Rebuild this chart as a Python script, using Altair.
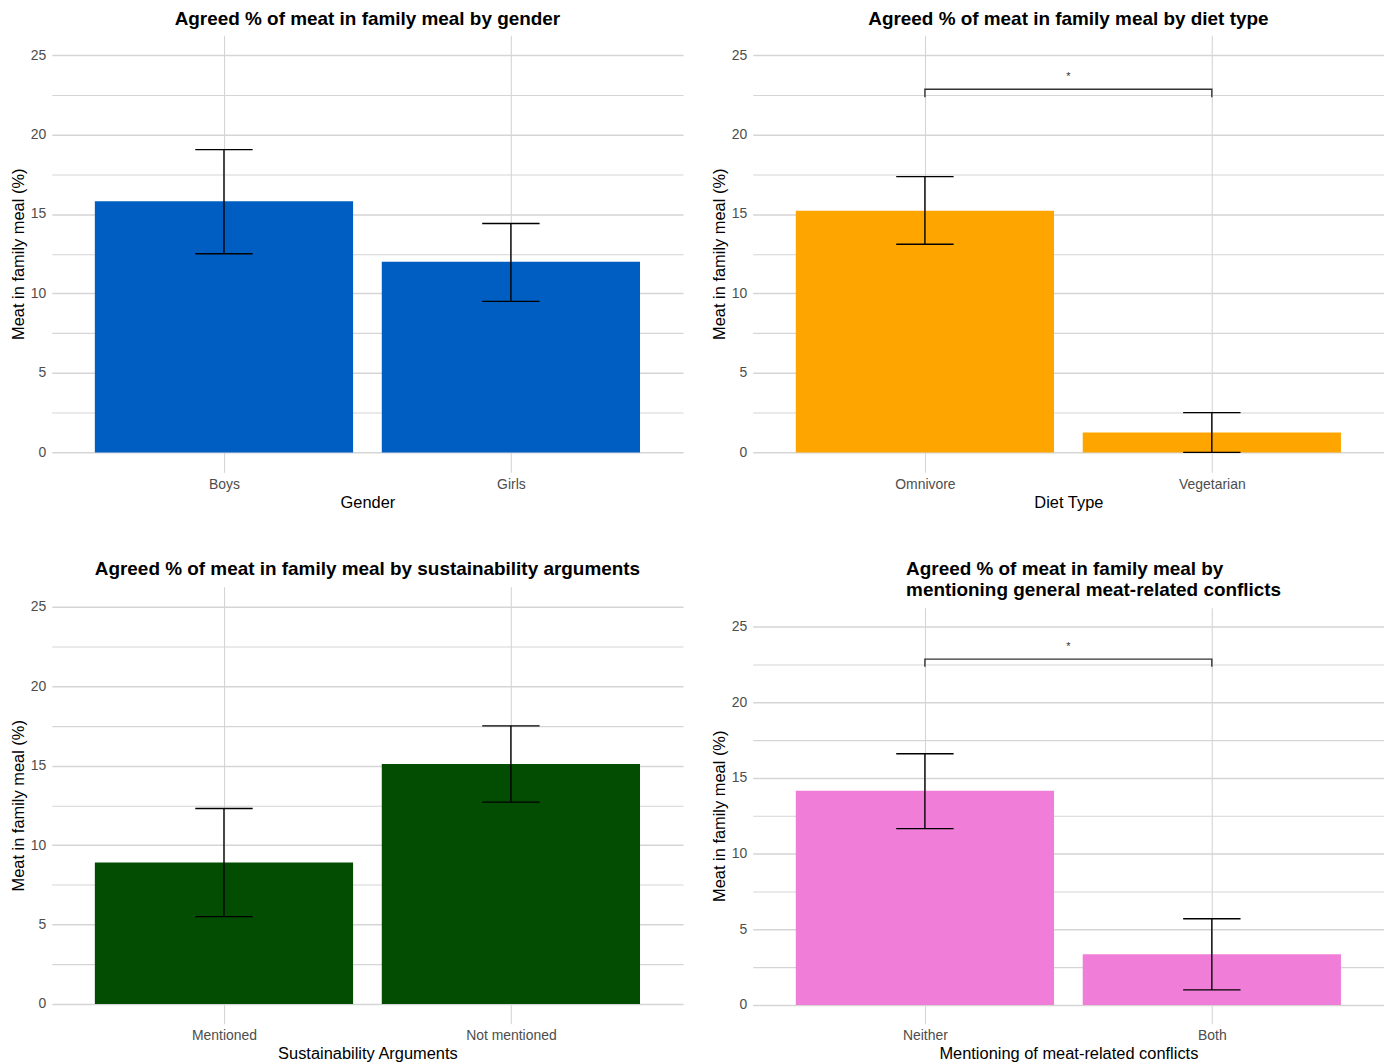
import altair as alt
import pandas as pd

FONT = "Liberation Sans"

# ---- data ----
gender_cats = ["Boys", "Girls"]
gender_mean = [15.8, 12.0]
gender_lo = [12.5, 9.5]
gender_hi = [19.05, 14.4]

diet_cats = ["Omnivore", "Vegetarian"]
diet_mean = [15.2, 1.25]
diet_lo = [13.1, 0.0]
diet_hi = [17.35, 2.5]

sust_cats = ["Mentioned", "Not mentioned"]
sust_mean = [8.9, 15.1]
sust_lo = [5.5, 12.7]
sust_hi = [12.3, 17.5]

conf_cats = ["Neither", "Both"]
conf_mean = [14.15, 3.35]
conf_lo = [11.65, 1.0]
conf_hi = [16.6, 5.7]

# significance bracket (top, drop, label height) and label
sig_top = 22.85
sig_drop = 22.35
sig_label_y = 23.45
sig_label = "*"

y_ticks = [0, 2.5, 5, 7.5, 10, 12.5, 15, 17.5, 20, 22.5, 25]

GRID = "#d5d5d5"


def panel(cats, means, los, his, color, title, xtitle, height, sig=False):
    df = pd.DataFrame({
        "cat": cats,
        "pos": list(range(1, len(cats) + 1)),
        "mean": means,
        "lo": los,
        "hi": his,
    })
    parts = [f"datum.value == {i + 1} ? '{c}'" for i, c in enumerate(cats)]
    label_expr = " : ".join(parts) + " : ''"

    xscale = alt.Scale(domain=[0.4, len(cats) + 0.6], nice=False, zero=False)
    yscale = alt.Scale(domain=[-1.25, 26.25], nice=False, zero=False)
    xaxis = alt.Axis(
        values=list(range(1, len(cats) + 1)), labelExpr=label_expr, title=xtitle,
        grid=True, gridColor=GRID, gridWidth=1.1, domain=False, ticks=False, tickSize=0,
        labelFont=FONT, labelFontSize=14, labelColor="#4d4d4d", labelPadding=5,
        titleFont=FONT, titleFontSize=16.5, titleColor="black", titleFontWeight="normal",
        titlePadding=3, labelAngle=0,
    )
    yaxis = alt.Axis(
        values=y_ticks, labelExpr="datum.value % 5 === 0 ? datum.label : ''",
        title="Meat in family meal (%)",
        grid=True, gridColor=GRID,
        gridWidth={"condition": {"test": "datum.value % 5 === 0", "value": 1.5}, "value": 1.1},
        domain=False, ticks=False, tickSize=0,
        labelFont=FONT, labelFontSize=14, labelColor="#4d4d4d", labelPadding=6,
        titleFont=FONT, titleFontSize=16.5, titleColor="black", titleFontWeight="normal",
        titlePadding=4,
    )

    def X(f):
        return alt.X(f, type="quantitative", scale=xscale, axis=xaxis)

    def Y(f):
        return alt.Y(f, type="quantitative", scale=yscale, axis=yaxis)

    base = alt.Chart(df).transform_calculate(
        left="datum.pos - 0.45", right="datum.pos + 0.45",
        cl="datum.pos - 0.1", cr="datum.pos + 0.1", zero="0",
    )
    bars = base.mark_bar(color=color).encode(
        x=X("left"), x2=alt.X2("right"), y=Y("mean"), y2=alt.Y2("zero"))
    stem = base.mark_rule(color="black", strokeWidth=1.4).encode(
        x=X("pos"), y=Y("lo"), y2=alt.Y2("hi"))
    cap_lo = base.mark_rule(color="black", strokeWidth=1.4).encode(
        x=X("cl"), x2=alt.X2("cr"), y=Y("lo"))
    cap_hi = base.mark_rule(color="black", strokeWidth=1.4).encode(
        x=X("cl"), x2=alt.X2("cr"), y=Y("hi"))
    layers = [bars, stem, cap_lo, cap_hi]

    if sig:
        br = pd.DataFrame({"pos": [1, 1, 2, 2],
                           "y": [sig_drop, sig_top, sig_top, sig_drop],
                           "o": [0, 1, 2, 3]})
        bracket = alt.Chart(br).mark_line(color="#333333", strokeWidth=1.4).encode(
            x=X("pos"), y=Y("y"), order="o:Q")
        lab = pd.DataFrame({"pos": [1.5], "y": [sig_label_y], "t": [sig_label]})
        star = alt.Chart(lab).mark_text(font=FONT, fontSize=11, color="#333333",
                                       baseline="alphabetic").encode(
            x=X("pos"), y=Y("y"), text="t:N")
        layers += [bracket, star]

    return alt.layer(*layers).properties(width=634, height=height, title=title)


def ttl(text, offset, **kw):
    return alt.TitleParams(text=text, font=FONT, fontSize=19, fontWeight="bold",
                           color="black", offset=offset, **kw)


p1 = panel(gender_cats, gender_mean, gender_lo, gender_hi, "#005EC2",
           ttl("Agreed % of meat in family meal by gender", 6, anchor="middle"),
           "Gender", 439)
p2 = panel(diet_cats, diet_mean, diet_lo, diet_hi, "#FFA500",
           ttl("Agreed % of meat in family meal by diet type", 6, anchor="middle"),
           "Diet Type", 439, sig=True)
p3 = panel(sust_cats, sust_mean, sust_lo, sust_hi, "#024D02",
           ttl("Agreed % of meat in family meal by sustainability arguments", 8,
               anchor="middle"),
           "Sustainability Arguments", 439)
p4 = panel(conf_cats, conf_mean, conf_lo, conf_hi, "#F07ED8",
           ttl(["Agreed % of meat in family meal by",
                "mentioning general meat-related conflicts"], 8,
               anchor="start", align="left", frame="group", dx=154, lineHeight=21),
           "Mentioning of meat-related conflicts", 418, sig=True)

chart = alt.hconcat(
    alt.vconcat(p1, p3, spacing=49),
    alt.vconcat(p2, p4, spacing=49),
    spacing=28,
).properties(
    padding={"left": 2, "top": 0, "right": 0, "bottom": 0},
    background="white",
).configure_view(stroke=None)

chart.save("out.html", embed_options={"renderer": "svg", "actions": False})
